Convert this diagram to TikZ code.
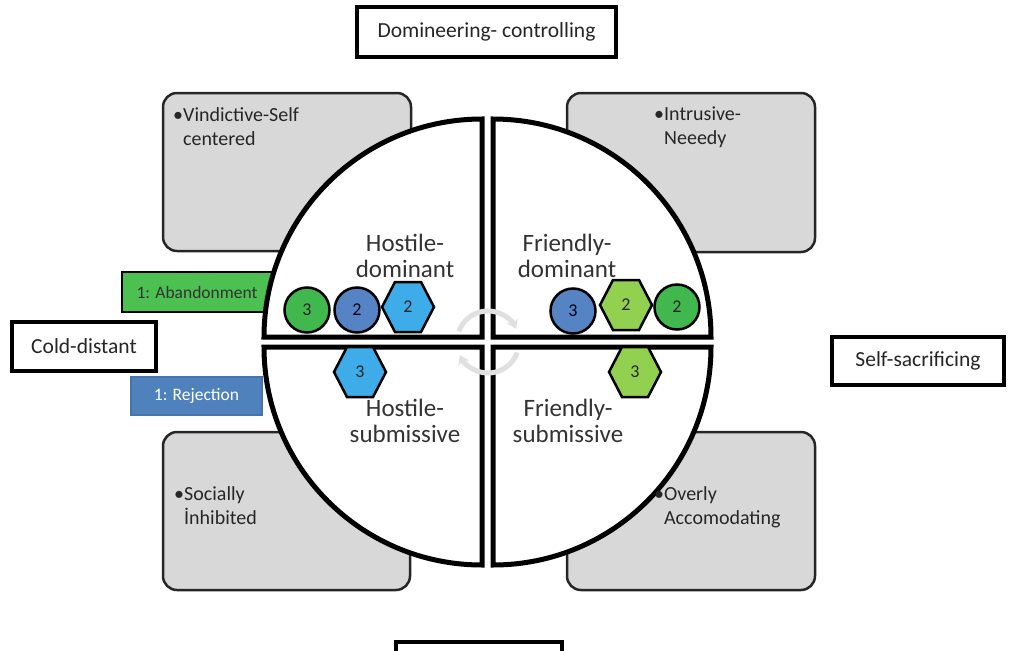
\documentclass[tikz,border=0pt]{standalone}
\usepackage{fontspec}
\setmainfont{Carlito}
\usetikzlibrary{arrows.meta}
\definecolor{boxgray}{RGB}{216,216,216}
\definecolor{grnC}{RGB}{64,184,78}
\definecolor{bluC}{RGB}{86,131,196}
\definecolor{hexblue}{RGB}{62,172,232}
\definecolor{hexgreen}{RGB}{146,208,80}
\definecolor{abgreen}{RGB}{76,192,80}
\definecolor{rejblue}{RGB}{79,129,189}
\definecolor{rejedge}{RGB}{70,115,170}
\begin{document}
\begin{tikzpicture}[x=1pt,y=-1pt,
  lbl/.style={draw=black, line width=3.5pt, fill=white, font=\fontsize{21.5}{25}\selectfont, text=black!85, inner sep=0pt},
  graybox/.style={draw=black!85, line width=2.5pt, fill=boxgray, rounded corners=14pt, inner sep=0pt},
  quad/.style={draw=black, line width=5pt, fill=white, line join=miter},
  qtxt/.style={font=\fontsize{25}{26}\selectfont, text=black!80, align=center, inner sep=0pt, anchor=north},
  btxt/.style={font=\fontsize{20}{24}\selectfont, text=black!85, align=left, inner sep=0pt, anchor=north west},
  numt/.style={font=\fontsize{18}{18}\selectfont, text=black!85, inner sep=0pt},
  dot/.style={circle, draw=black, line width=2.5pt, minimum size=45pt, inner sep=0pt, font=\fontsize{18}{18}\selectfont, text=black!85},
  tag/.style={inner sep=0pt, font=\fontsize{17.5}{20}\selectfont},
  cyc/.style={draw=black!12, line width=5pt, -{Stealth[length=9pt,width=12pt]}},
  pics/hexa/.style n args={2}{code={
    \draw[line width=2.5pt, fill=#1, line join=miter] (-26,0) -- (-13,-25) -- (13,-25) -- (26,0) -- (13,25) -- (-13,25) -- cycle;
    \node[numt] (-t) {#2};}}
]
\useasboundingbox (0,0) rectangle (1013,651);
\clip (0,0) rectangle (1013,651);
\fill[white] (0,0) rectangle (1013,651);

% gray boxes
\node[graybox, minimum width=248pt, minimum height=158pt] (gtl) at (287,172) {};
\node[graybox, minimum width=248pt, minimum height=159pt] (gtr) at (691,172.5) {};
\node[graybox, minimum width=247pt, minimum height=158pt] (gbl) at (286.5,511) {};
\node[graybox, minimum width=248pt, minimum height=158pt] (gbr) at (691,511) {};

% tag boxes
\node[tag, draw=black, line width=2.5pt, fill=abgreen, minimum width=158pt, minimum height=40pt, text=black!80] (aband) at (201,292) {\hspace*{-8pt}1: Abandonment};
\node[tag, draw=rejedge, line width=1.2pt, fill=rejblue, minimum width=131pt, minimum height=38pt, text=white] (rej) at (196.5,396) {1: Rejection};

% quadrants
\draw[quad] (482,337) -- (264,337) arc[start angle=180, end angle=270, radius=218] -- cycle;
\draw[quad] (493,337) -- (711,337) arc[start angle=0, end angle=-90, radius=218] -- cycle;
\draw[quad] (482,347) -- (264,347) arc[start angle=180, end angle=90, radius=218] -- cycle;
\draw[quad] (493,347) -- (711,347) arc[start angle=0, end angle=90, radius=218] -- cycle;

% central cycle arrows
\coordinate (ctr) at (488,342);
\draw[cyc] (ctr) ++(200:31) arc[start angle=200, end angle=335, radius=31];
\draw[cyc] (ctr) ++(20:31) arc[start angle=20, end angle=155, radius=31];

% quadrant labels
\node[qtxt] (qtl) at (405,234) {Hostile-\\dominant};
\node[qtxt] (qtr) at (567,234) {Friendly-\\dominant};
\node[qtxt] (qbl) at (405,399) {Hostile-\\submissive};
\node[qtxt] (qbr) at (568,399) {Friendly-\\submissive};

% shapes
\node[dot, fill=grnC] (c1) at (307,310) {3};
\node[dot, fill=bluC, text=black!90!blue] (c2) at (357,310) {2};
\pic (h1) at (408,307) {hexa={hexblue}{2}};
\node[dot, fill=bluC, text=black!90!blue] (c3) at (573,311) {3};
\pic (h2) at (626,305) {hexa={hexgreen}{2}};
\node[dot, fill=grnC] (c4) at (677,307) {2};
\pic (h3) at (360,372) {hexa={hexblue}{3}};
\pic (h4) at (635,372) {hexa={hexgreen}{3}};

% gray box texts
\node[btxt] (ttl) at (173,107) {•Vindictive-Self\\\phantom{•}centered};
\node[btxt] (ttr) at (654,107) {•Intrusive-\\\phantom{•}Neeedy};
\node[btxt] (tbl) at (174,486) {•Socially\\\phantom{•}İnhibited};
\node[btxt] (tbr) at (654,486) {•Overly\\\phantom{•}Accomodating};

% outer labels
\node[lbl, minimum width=259pt, minimum height=50pt] (dom) at (486.5,32) {Domineering- controlling};
\node[lbl, minimum width=144pt, minimum height=49pt] (cold) at (84,346.5) {Cold-distant};
\node[lbl, minimum width=172pt, minimum height=48pt] (self) at (918,361) {Self-sacrificing};
\node[lbl, minimum width=166pt, minimum height=48pt] (bot) at (479,666) {};
\end{tikzpicture}
\end{document}
